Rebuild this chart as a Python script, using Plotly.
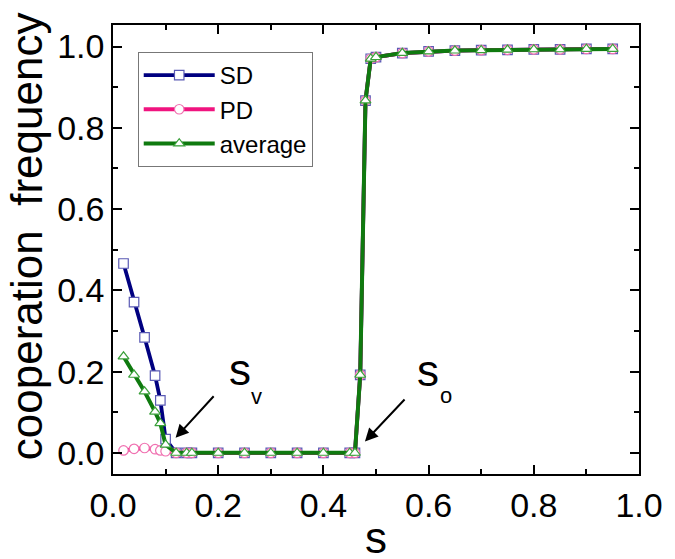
import plotly.graph_objects as go

# ---- data ----
s_values = [0.02, 0.04, 0.06, 0.08, 0.09, 0.10, 0.12, 0.14, 0.15, 0.20, 0.25, 0.30,
            0.35, 0.40, 0.45, 0.46, 0.47, 0.48, 0.49, 0.50, 0.55, 0.60, 0.65, 0.70,
            0.75, 0.80, 0.85, 0.90, 0.95]
sd_values = [0.466, 0.371, 0.284, 0.190, 0.129, 0.034, 0.0, 0.0, 0.0, 0.0, 0.0, 0.0,
             0.0, 0.0, 0.0, 0.0, 0.192, 0.867, 0.970, 0.974, 0.984, 0.988, 0.990, 0.991,
             0.992, 0.993, 0.993, 0.994, 0.994]
pd_values = [0.006, 0.010, 0.012, 0.009, 0.006, 0.004, 0.0, 0.0, 0.0, 0.0, 0.0, 0.0,
             0.0, 0.0, 0.0, 0.0, 0.192, 0.867, 0.970, 0.974, 0.984, 0.988, 0.990, 0.991,
             0.992, 0.993, 0.993, 0.994, 0.994]
avg_values = [0.237, 0.192, 0.151, 0.101, 0.073, 0.020, 0.0, 0.0, 0.0, 0.0, 0.0, 0.0,
              0.0, 0.0, 0.0, 0.0, 0.192, 0.867, 0.970, 0.974, 0.984, 0.988, 0.990, 0.991,
              0.992, 0.993, 0.993, 0.994, 0.994]
series_names = ["SD", "PD", "average"]
tick_vals = [0.0, 0.2, 0.4, 0.6, 0.8, 1.0]
tick_text = ["0.0", "0.2", "0.4", "0.6", "0.8", "1.0"]

FONT = "Liberation Sans, Arial, sans-serif"

fig = go.Figure()

styles = [
    (sd_values, "#000080", "#5a5ab4", "square", 3.8),
    (pd_values, "#f0147f", "#f070b0", "circle", 3.8),
    (avg_values, "#0f7a0f", "#3aa03a", "triangle-up", 4),
]
for name, (vals, lc, mc, sym, lw) in zip(series_names, styles):
    fig.add_trace(go.Scatter(
        x=s_values, y=vals, name=name, mode="lines+markers",
        line=dict(color=lc, width=lw),
        marker=dict(symbol=sym, size=9.5, color="white",
                    line=dict(color=mc, width=1.2)),
    ))

axis_common = dict(
    showgrid=False, zeroline=False, showline=True, linecolor="black", linewidth=1.5,
    mirror="ticks", ticks="inside", ticklen=9, tickwidth=1.5, tickcolor="black",
    tickvals=tick_vals, ticktext=tick_text,
    tickfont=dict(family=FONT, size=34, color="black"),
    minor=dict(dtick=0.1, tick0=0, ticks="inside", ticklen=5, tickwidth=1.5, tickcolor="black"),
)
fig.update_xaxes(range=[0, 1], **axis_common)
fig.update_yaxes(range=[-0.052, 1.053], **axis_common)

ann = []
# axis titles
ann.append(dict(text="s", xref="paper", yref="paper", x=0.5, y=-0.142, showarrow=False,
                font=dict(family=FONT, size=44, color="black"), xanchor="center", yanchor="middle"))
ann.append(dict(text="cooperation  frequency", xref="paper", yref="paper", x=-0.165, y=0.53,
                textangle=-90, showarrow=False,
                font=dict(family=FONT, size=44, color="black"), xanchor="center", yanchor="middle"))
# s_v label and arrow
ann.append(dict(text="s", x=0.241, y=0.205, xref="x", yref="y", showarrow=False,
                font=dict(family=FONT, size=44, color="black")))
ann.append(dict(text="v", x=0.272, y=0.138, xref="x", yref="y", showarrow=False,
                font=dict(family=FONT, size=22, color="black")))
ann.append(dict(text="", x=0.119, y=0.037, ax=0.194, ay=0.143, xref="x", yref="y",
                axref="x", ayref="y", showarrow=True, arrowhead=2, arrowsize=1.3,
                arrowwidth=2, arrowcolor="black"))
# s_o label and arrow
ann.append(dict(text="s", x=0.599, y=0.202, xref="x", yref="y", showarrow=False,
                font=dict(family=FONT, size=44, color="black")))
ann.append(dict(text="o", x=0.634, y=0.141, xref="x", yref="y", showarrow=False,
                font=dict(family=FONT, size=22, color="black")))
ann.append(dict(text="", x=0.479, y=0.028, ax=0.557, ay=0.135, xref="x", yref="y",
                axref="x", ayref="y", showarrow=True, arrowhead=2, arrowsize=1.3,
                arrowwidth=2, arrowcolor="black"))

# the page body has an 8px margin, so the figure is 8px smaller and the margins compensate
fig.update_layout(
    width=667, height=551,
    margin=dict(l=105, r=25, t=17, b=85),
    paper_bgcolor="white", plot_bgcolor="white",
    font=dict(family=FONT, color="black"),
    annotations=ann,
    showlegend=True,
    legend=dict(x=0.047, y=0.94, xanchor="left", yanchor="top",
                bgcolor="white", bordercolor="#777777", borderwidth=1,
                font=dict(family=FONT, size=24, color="black"),
                itemwidth=71, tracegroupgap=0),
)

fig.write_html("out.html")
